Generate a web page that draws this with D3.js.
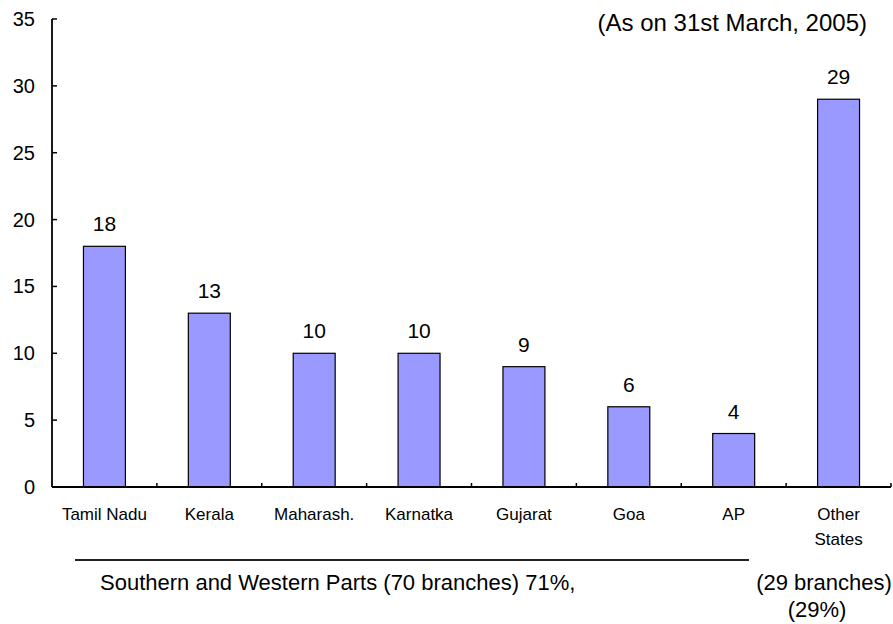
<!DOCTYPE html>
<html>
<head>
<meta charset="utf-8">
<script src="https://cdn.jsdelivr.net/npm/d3@7"></script>
<style>
  html, body { margin: 0; padding: 0; background: #fff; }
  svg { display: block; font-family: "Liberation Sans", Arial, sans-serif; }
</style>
</head>
<body>
<svg id="chart" width="893" height="624"></svg>
<script>
const categories = ["Tamil Nadu", "Kerala", "Maharash.", "Karnatka", "Gujarat", "Goa", "AP", "Other\nStates"];
const values = [18, 13, 10, 10, 9, 6, 4, 29];
const yTicks = [0, 5, 10, 15, 20, 25, 30, 35];
const titleText = "(As on 31st March, 2005)";
const groupLeftText = "Southern and Western Parts (70 branches) 71%,";
const groupRightLines = ["(29 branches)", "(29%)"];

const svg = d3.select("#chart");
const x0 = 52, x1 = 891, yBottom = 487, yTop = 19;

const x = d3.scaleBand().domain(d3.range(categories.length)).range([x0, x1])
  .paddingInner(0.6).paddingOuter(0.3);
const y = d3.scaleLinear().domain([0, 35]).range([yBottom, yTop]);
const step = x.step();

// bars
svg.append("g").selectAll("rect").data(values).join("rect")
  .attr("x", (d, i) => x(i))
  .attr("y", d => y(d))
  .attr("width", x.bandwidth())
  .attr("height", d => y(0) - y(d))
  .attr("fill", "#9999FF")
  .attr("stroke", "#000")
  .attr("stroke-width", 1.2);

// value labels
svg.append("g").selectAll("text").data(values).join("text")
  .attr("x", (d, i) => x(i) + x.bandwidth() / 2)
  .attr("y", d => y(d) - 15)
  .attr("text-anchor", "middle")
  .attr("font-size", 21)
  .attr("fill", "#000")
  .text(d => d);

// y axis
const yAxis = svg.append("g");
yAxis.append("line").attr("x1", x0).attr("x2", x0).attr("y1", y(35)).attr("y2", y(0))
  .attr("stroke", "#000").attr("stroke-width", 1.8);
yAxis.selectAll("line.tick").data(yTicks).join("line").attr("class", "tick")
  .attr("x1", x0).attr("x2", x0 + 5).attr("y1", d => y(d)).attr("y2", d => y(d))
  .attr("stroke", "#000").attr("stroke-width", 1.5);
yAxis.selectAll("text").data(yTicks).join("text")
  .attr("x", 35).attr("y", d => y(d)).attr("dy", "0.35em")
  .attr("text-anchor", "end").attr("font-size", 20).attr("fill", "#000")
  .text(d => d);

// x axis
const xAxis = svg.append("g");
xAxis.append("line").attr("x1", x0).attr("x2", x1).attr("y1", y(0)).attr("y2", y(0))
  .attr("stroke", "#000").attr("stroke-width", 1.8);
xAxis.selectAll("line.tick").data(d3.range(1, categories.length + 1)).join("line").attr("class", "tick")
  .attr("x1", i => x0 + i * step).attr("x2", i => x0 + i * step)
  .attr("y1", y(0)).attr("y2", y(0) - 4)
  .attr("stroke", "#000").attr("stroke-width", 1.5);
const xl = xAxis.selectAll("text").data(categories).join("text")
  .attr("x", (d, i) => x(i) + x.bandwidth() / 2)
  .attr("y", 520)
  .attr("text-anchor", "middle").attr("font-size", 17).attr("fill", "#000");
xl.each(function(d, i) {
  const lines = d.split("\n");
  d3.select(this).selectAll("tspan").data(lines).join("tspan")
    .attr("x", x(i) + x.bandwidth() / 2)
    .attr("dy", (l, j) => j === 0 ? 0 : 25)
    .text(l => l);
});

// title
svg.append("text").attr("x", 867).attr("y", 31).attr("text-anchor", "end")
  .attr("font-size", 24).attr("fill", "#000").text(titleText);

// grouping line and texts
svg.append("line").attr("x1", 75).attr("x2", 749).attr("y1", 560).attr("y2", 560)
  .attr("stroke", "#222").attr("stroke-width", 2);
svg.append("text").attr("x", 100).attr("y", 590).attr("font-size", 22).attr("fill", "#000")
  .text(groupLeftText);
svg.append("text").attr("x", 824).attr("y", 590).attr("text-anchor", "middle")
  .attr("font-size", 22).attr("fill", "#000").text(groupRightLines[0]);
svg.append("text").attr("x", 817).attr("y", 617).attr("text-anchor", "middle")
  .attr("font-size", 22).attr("fill", "#000").text(groupRightLines[1]);
</script>
</body>
</html>
